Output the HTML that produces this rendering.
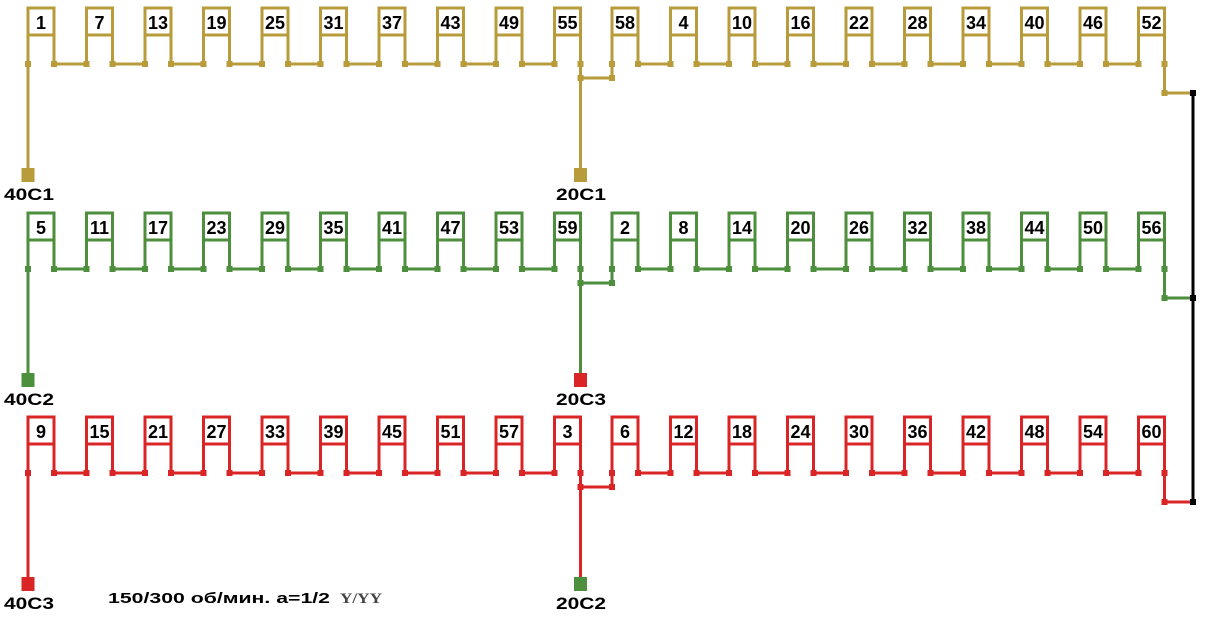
<!DOCTYPE html>
<html><head><meta charset="utf-8"><style>
html,body{margin:0;padding:0;background:#fff;}
svg{display:block}
text{font-family:"Liberation Sans",sans-serif;font-weight:bold;}
</style></head><body>
<svg width="1212" height="621" viewBox="0 0 1212 621" xmlns="http://www.w3.org/2000/svg">
<defs>
<g id="c">
<path d="M0 56V0H26V56M0 27H26" fill="#fff" stroke-width="3"/>
<rect x="-3" y="53" width="6" height="6" stroke="none" fill="currentColor"/>
<rect x="23" y="53" width="6" height="6" stroke="none" fill="currentColor"/>
</g>
<g id="row">
<use href="#c" x="28" y="8"/><use href="#c" x="86.5" y="8"/><use href="#c" x="145" y="8"/><use href="#c" x="203.5" y="8"/><use href="#c" x="262" y="8"/><use href="#c" x="320.5" y="8"/><use href="#c" x="379" y="8"/><use href="#c" x="437.5" y="8"/><use href="#c" x="496" y="8"/><use href="#c" x="554.5" y="8"/>
<use href="#c" x="612" y="8"/><use href="#c" x="670.5" y="8"/><use href="#c" x="729" y="8"/><use href="#c" x="787.5" y="8"/><use href="#c" x="846" y="8"/><use href="#c" x="904.5" y="8"/><use href="#c" x="963" y="8"/><use href="#c" x="1021.5" y="8"/><use href="#c" x="1080" y="8"/><use href="#c" x="1138.5" y="8"/>
<path fill="none" stroke-width="3" d="M54 64H86.5M112.5 64H145M171 64H203.5M229.5 64H262M288 64H320.5M346.5 64H379M405 64H437.5M463.5 64H496M522 64H554.5M638 64H670.5M696.5 64H729M755 64H787.5M813.5 64H846M872 64H904.5M930.5 64H963M989 64H1021.5M1047.5 64H1080M1106 64H1138.5M28 64V172M580.5 64V172M580.5 78H612V64M1164.5 64V93H1193"/>
<rect x="577.5" y="75" width="6" height="6" stroke="none" fill="currentColor"/>
<rect x="609" y="75" width="6" height="6" stroke="none" fill="currentColor"/>
<rect x="1161.5" y="90" width="6" height="6" stroke="none" fill="currentColor"/>
</g>
</defs>

<g stroke="#b89b3a" color="#b89b3a"><use href="#row"/></g>
<g stroke="#4d8f3c" color="#4d8f3c" transform="translate(0,205)"><use href="#row"/></g>
<g stroke="#d92525" color="#d92525" transform="translate(0,409)"><use href="#row"/></g>

<path d="M1193 93V502" stroke="#000" stroke-width="3"/>
<rect x="1190" y="90" width="6" height="6" fill="#000"/>
<rect x="1190" y="295" width="6" height="6" fill="#000"/>
<rect x="1190" y="499" width="6" height="6" fill="#000"/>

<rect x="21.5" y="168" width="13" height="14" fill="#b89b3a"/>
<rect x="574" y="168" width="13" height="14" fill="#b89b3a"/>
<rect x="21.5" y="373" width="13" height="14" fill="#4d8f3c"/>
<rect x="574" y="373" width="13" height="14" fill="#d92525"/>
<rect x="21.5" y="577" width="13" height="14" fill="#d92525"/>
<rect x="574" y="577" width="13" height="14" fill="#4d8f3c"/>

<g font-size="17">
<text x="4" y="200" textLength="50" lengthAdjust="spacingAndGlyphs">40C1</text><text x="556" y="200" textLength="50" lengthAdjust="spacingAndGlyphs">20C1</text>
<text x="4" y="405" textLength="50" lengthAdjust="spacingAndGlyphs">40C2</text><text x="556" y="405" textLength="50" lengthAdjust="spacingAndGlyphs">20C3</text>
<text x="4" y="609" textLength="50" lengthAdjust="spacingAndGlyphs">40C3</text><text x="556" y="609" textLength="50" lengthAdjust="spacingAndGlyphs">20C2</text>
</g>
<text x="108" y="603" font-size="15" textLength="222" lengthAdjust="spacingAndGlyphs">150/300 об/мин. a=1/2</text>
<text x="340" y="603" font-size="15" font-family="Liberation Serif,serif" fill="#444" textLength="42" lengthAdjust="spacingAndGlyphs" style="font-family:'Liberation Serif',serif">Y/YY</text>

<g font-size="18" text-anchor="middle">
<text x="41" y="29">1</text><text x="99.5" y="29">7</text><text x="158" y="29">13</text><text x="216.5" y="29">19</text><text x="275" y="29">25</text><text x="333.5" y="29">31</text><text x="392" y="29">37</text><text x="450.5" y="29">43</text><text x="509" y="29">49</text><text x="567.5" y="29">55</text>
<text x="625" y="29">58</text><text x="683.5" y="29">4</text><text x="742" y="29">10</text><text x="800.5" y="29">16</text><text x="859" y="29">22</text><text x="917.5" y="29">28</text><text x="976" y="29">34</text><text x="1034.5" y="29">40</text><text x="1093" y="29">46</text><text x="1151.5" y="29">52</text>
<text x="41" y="234">5</text><text x="99.5" y="234">11</text><text x="158" y="234">17</text><text x="216.5" y="234">23</text><text x="275" y="234">29</text><text x="333.5" y="234">35</text><text x="392" y="234">41</text><text x="450.5" y="234">47</text><text x="509" y="234">53</text><text x="567.5" y="234">59</text>
<text x="625" y="234">2</text><text x="683.5" y="234">8</text><text x="742" y="234">14</text><text x="800.5" y="234">20</text><text x="859" y="234">26</text><text x="917.5" y="234">32</text><text x="976" y="234">38</text><text x="1034.5" y="234">44</text><text x="1093" y="234">50</text><text x="1151.5" y="234">56</text>
<text x="41" y="438">9</text><text x="99.5" y="438">15</text><text x="158" y="438">21</text><text x="216.5" y="438">27</text><text x="275" y="438">33</text><text x="333.5" y="438">39</text><text x="392" y="438">45</text><text x="450.5" y="438">51</text><text x="509" y="438">57</text><text x="567.5" y="438">3</text>
<text x="625" y="438">6</text><text x="683.5" y="438">12</text><text x="742" y="438">18</text><text x="800.5" y="438">24</text><text x="859" y="438">30</text><text x="917.5" y="438">36</text><text x="976" y="438">42</text><text x="1034.5" y="438">48</text><text x="1093" y="438">54</text><text x="1151.5" y="438">60</text>
</g>
</svg>
</body></html>
